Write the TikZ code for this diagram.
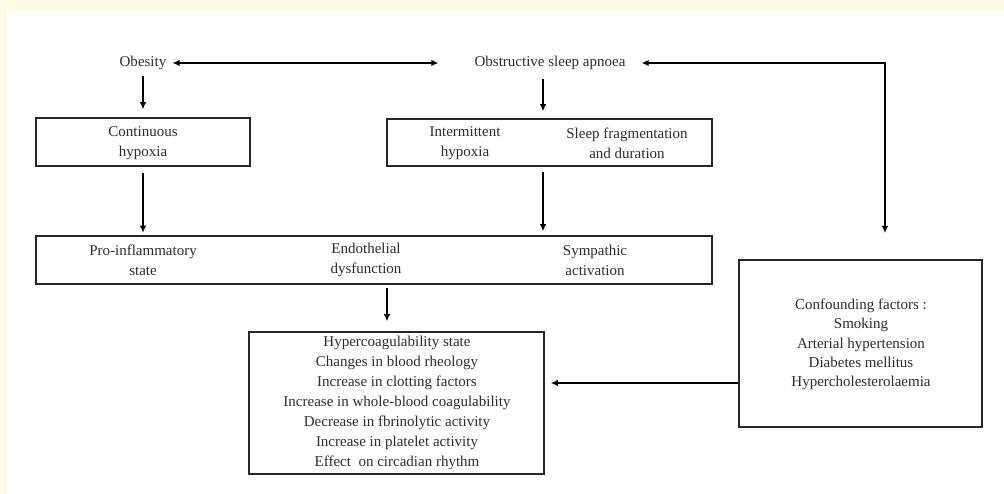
\documentclass[tikz,border=0pt]{standalone}
\usepackage{fontspec}
\setmainfont{Liberation Serif}
\usetikzlibrary{arrows.meta,calc}
\definecolor{cream}{RGB}{255,250,229}
\definecolor{txt}{RGB}{45,45,45}
\definecolor{edge}{RGB}{40,40,40}
\begin{document}
\begin{tikzpicture}[x=1pt,y=-1pt,
  lbl/.style={inner sep=0pt,text=txt,align=center,font=\fontsize{15}{20}\selectfont},
  lbltight/.style={lbl,font=\fontsize{15}{19.3}\selectfont},
  boxx/.style={draw=edge,line width=1.5pt,inner sep=0pt,fill=none},
  arr/.style={draw=black,line width=1.3pt,-{Latex[length=7pt,width=6.5pt]}},
  darr/.style={draw=black,line width=1.3pt,{Latex[length=7pt,width=6.5pt]}-{Latex[length=7pt,width=6.5pt]}}]
\useasboundingbox (0,0) rectangle (1004,494);
\fill[cream] (0,0) rectangle (1004,494);
\fill[white] (7,11) rectangle (1004,494);

% boxes
\node[boxx,minimum width=214pt,minimum height=48pt] (cont) at (143,142) {};
\node[boxx,minimum width=325pt,minimum height=47pt] (inter) at (549.5,142.5) {};
\node[boxx,minimum width=676pt,minimum height=48pt] (big) at (374,260) {};
\node[boxx,minimum width=295pt,minimum height=142pt] (hyper) at (396.5,403) {};
\node[boxx,minimum width=243pt,minimum height=167pt] (conf) at (860.5,343.5) {};

% texts
\node[lbl] (obesity) at (143,63) {Obesity};
\node[lbl] (osa) at (550,63) {Obstructive sleep apnoea};
\node[lbl] (conttxt) at (143,143) {Continuous\\hypoxia};
\node[lbl] (intertxt) at (465,143) {Intermittent\\hypoxia};
\node[lbl] (sleeptxt) at (627,143) {Sleep fragmentation\\and duration};
\node[lbl] (protxt) at (143,260) {Pro-inflammatory\\state};
\node[lbl] (endotxt) at (366,260) {Endothelial\\dysfunction};
\node[lbl] (symptxt) at (595,260) {Sympathic\\activation};
\node[lbl] (hypertxt) at (397,403) {Hypercoagulability state\\Changes in blood rheology\\Increase in clotting factors\\Increase in whole-blood coagulability\\Decrease in fbrinolytic activity\\Increase in platelet activity\\Effect\ \ on circadian rhythm};
\node[lbltight] (conftxt) at (861,344.5) {Confounding factors :\\Smoking\\Arterial hypertension\\Diabetes mellitus\\Hypercholesterolaemia};

% connectors
\coordinate (osaA) at (543,79);
\coordinate (interA) at (543,172);
\coordinate (bigA) at (387,288);
\coordinate (turn) at (885,63);
\coordinate (confTop) at (885,233);
\draw[darr] ($(obesity.east)+(6,0)$) -- ($(osa.west)+(-36,0)$);
\draw[darr] ($(osa.east)+(16,0)$) -- (turn) -- (confTop);
\draw[arr] ($(obesity.south)+(0,6)$) -- ($(cont.north)+(0,-8)$);
\draw[arr] (osaA) -- ($(osaA |- inter.north)+(0,-7)$);
\draw[arr] ($(cont.south)+(0,6)$) -- ($(cont.south)+(0,66)$);
\draw[arr] (interA) -- ($(interA |- big.north)+(0,-4)$);
\draw[arr] (bigA) -- ($(bigA |- hyper.north)+(0,-10)$);
\draw[arr] (conf.west |- 0,383) -- ($(hyper.east |- 0,383)+(6,0)$);
\end{tikzpicture}
\end{document}
